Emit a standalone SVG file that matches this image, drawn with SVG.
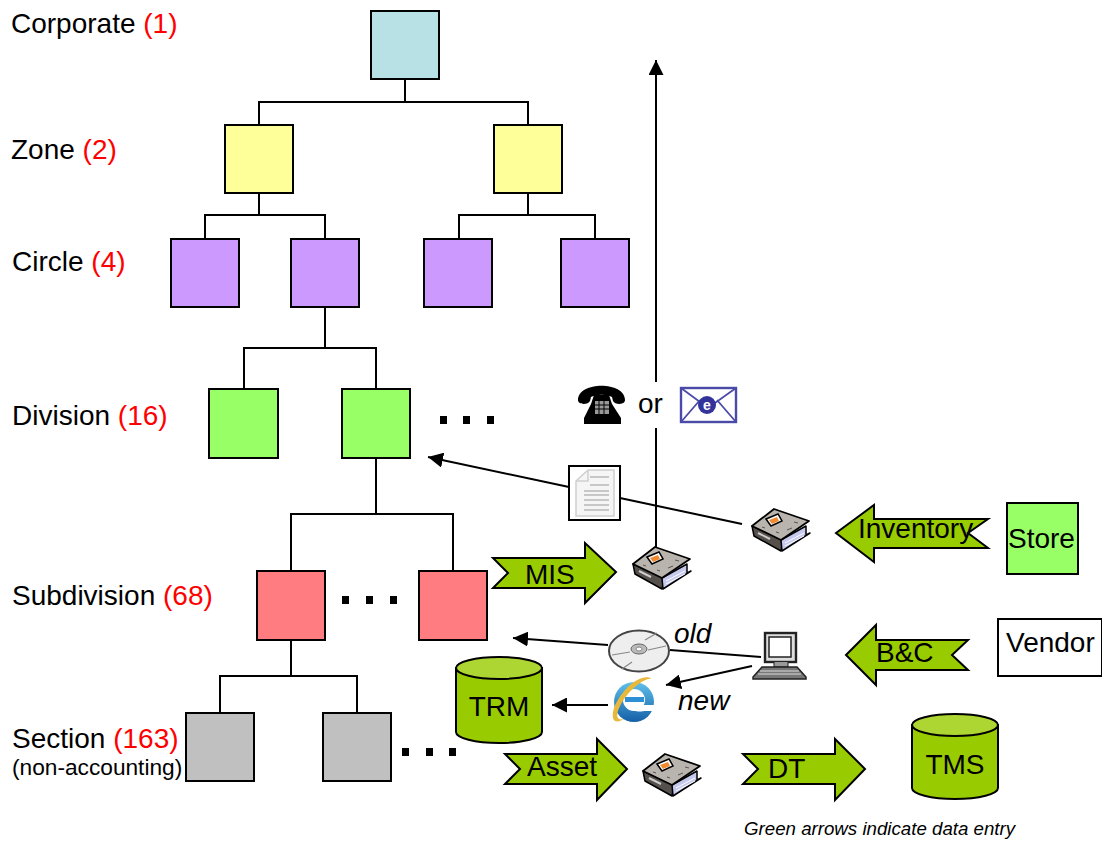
<svg xmlns="http://www.w3.org/2000/svg" xmlns:xlink="http://www.w3.org/1999/xlink" width="1102" height="843" viewBox="0 0 1102 843">
<style>
text{font-family:"Liberation Sans",Arial,sans-serif;font-size:28px;fill:#000}
.red{fill:#f00}
.it{font-style:italic}
.n{stroke:#000;stroke-width:2}
.c{fill:none;stroke:#000;stroke-width:2}
.blue{fill:#b7e1e4}.yel{fill:#ffff99}.pur{fill:#cc99ff}.grn{fill:#99ff66}.pnk{fill:#ff7c80}.gry{fill:#c0c0c0}
.ga{fill:#99cc00;stroke:#000;stroke-width:2;stroke-linejoin:miter}
.top{fill:#add633;stroke:#000;stroke-width:2}
.dot{fill:#000}
</style>
<defs>
<marker id="ah" markerUnits="userSpaceOnUse" markerWidth="16" markerHeight="15" refX="15" refY="7.5" orient="auto"><path d="M0 0L15 7.5L0 15z" fill="#000"/></marker>
<linearGradient id="ieg" x1="0" y1="0" x2="0" y2="1"><stop offset="0" stop-color="#5fc0ea"/><stop offset="1" stop-color="#1560a8"/></linearGradient>
<symbol id="book" width="60" height="45" viewBox="0 0 60 45" overflow="visible">
<path d="M0 18L2 28L29 43L31 32z" fill="#55504c" stroke="#000" stroke-width="1.5" stroke-linejoin="round"/>
<path d="M29 32L54 18L54 27L58 25L30 43z" fill="#c5c9ee" stroke="#000" stroke-width="1.5" stroke-linejoin="round"/>
<path d="M0 18L22 1L57 13L29 32z" fill="#b9b4ae" stroke="#000" stroke-width="1.8" stroke-linejoin="round"/>
<path d="M33 35L52 25M33 38L52 28" stroke="#fff" stroke-width="1"/>
<path d="M14 11L26 6L30 13L19 18z" fill="#fff" stroke="#000" stroke-width="1.5"/>
<path d="M17 12L25 9L27 13L20 16z" fill="#f08a30"/>
<path d="M6 25L18 31" stroke="#ccc" stroke-width="2"/>
<path d="M35 22L40 20M42 14L46 15M10 19L13 20M24 24L27 25" stroke="#555" stroke-width="1"/>
</symbol>
</defs>
<rect width="1102" height="843" fill="#fff"/>

<g id="connectors">
<path class="c" d="M405 79V102M259 125V102H528V125"/>
<path class="c" d="M259 193V215M205 239V215H325V239"/>
<path class="c" d="M528 193V215M459 239V215H595V239"/>
<path class="c" d="M325 307V348M244 389V348H376V389"/>
<path class="c" d="M376 458V514M291 571V514H453V571"/>
<path class="c" d="M291 640V676M220 713V676H357V713"/>
<line class="c" x1="656" y1="382" x2="656" y2="60" marker-end="url(#ah)"/>
<line class="c" x1="656" y1="547" x2="656" y2="428"/>
<line class="c" x1="569" y1="487" x2="428" y2="457" marker-end="url(#ah)"/>
<line class="c" x1="742" y1="524" x2="620" y2="498"/>
<line class="c" x1="608" y1="645" x2="513" y2="638" marker-end="url(#ah)"/>
<line class="c" x1="761" y1="657" x2="670" y2="650"/>
<line class="c" x1="752" y1="666" x2="666" y2="685" marker-end="url(#ah)"/>
<line class="c" x1="608" y1="705" x2="552" y2="705" marker-end="url(#ah)"/>
</g>

<g id="labels">
<text x="11" y="33">Corporate <tspan class="red">(1)</tspan></text>
<text x="11" y="159">Zone <tspan class="red">(2)</tspan></text>
<text x="12" y="271">Circle <tspan class="red">(4)</tspan></text>
<text x="12" y="425">Division <tspan class="red">(16)</tspan></text>
<text x="12" y="605">Subdivision <tspan class="red">(68)</tspan></text>
<text x="12" y="748">Section <tspan class="red">(163)</tspan></text>
<text x="12" y="775" style="font-size:22.7px">(non-accounting)</text>
<text x="744" y="835" class="it" style="font-size:18.7px">Green arrows indicate data entry</text>
</g>

<g id="corporate"><rect class="n blue" x="371" y="11" width="68" height="68"/></g>
<g id="zone-1"><rect class="n yel" x="225" y="125" width="68" height="68"/></g>
<g id="zone-2"><rect class="n yel" x="494" y="125" width="68" height="68"/></g>
<g id="circle-1"><rect class="n pur" x="171" y="239" width="68" height="68"/></g>
<g id="circle-2"><rect class="n pur" x="291" y="239" width="68" height="68"/></g>
<g id="circle-3"><rect class="n pur" x="424" y="239" width="68" height="68"/></g>
<g id="circle-4"><rect class="n pur" x="561" y="239" width="68" height="68"/></g>
<g id="division-1"><rect class="n grn" x="209" y="389" width="69" height="69"/></g>
<g id="division-2"><rect class="n grn" x="342" y="389" width="68" height="69"/></g>
<g id="subdivision-1"><rect class="n pnk" x="257" y="571" width="68" height="69"/></g>
<g id="subdivision-2"><rect class="n pnk" x="419" y="571" width="68" height="69"/></g>
<g id="section-1"><rect class="n gry" x="186" y="713" width="68" height="68"/></g>
<g id="section-2"><rect class="n gry" x="323" y="713" width="68" height="68"/></g>

<g id="ellipses">
<rect class="dot" x="440" y="416" width="7" height="8"/><rect class="dot" x="463" y="416" width="7" height="8"/><rect class="dot" x="487" y="416" width="7" height="8"/>
<rect class="dot" x="342" y="596" width="7" height="8"/><rect class="dot" x="366" y="596" width="7" height="8"/><rect class="dot" x="390" y="596" width="7" height="8"/>
<rect class="dot" x="402" y="748" width="7" height="8"/><rect class="dot" x="426" y="748" width="7" height="8"/><rect class="dot" x="449" y="748" width="7" height="8"/>
</g>

<g id="mis"><path class="ga" d="M493 558H585V543L616 572L585 603V588H493L508 573z"/><text x="525" y="584">MIS</text></g>
<g id="asset"><path class="ga" d="M505 754H597V739L627 769L597 800V784H505L520 769z"/><text x="527" y="776">Asset</text></g>
<g id="dt"><path class="ga" d="M743 754H835V739L865 769L835 800V784H743L758 769z"/><text x="768" y="778">DT</text></g>
<g id="inventory"><path class="ga" d="M836 533L874 505V519H988L968 533L988 548H874V562z"/><text x="858" y="538">Inventory</text></g>
<g id="bc"><path class="ga" d="M846 655L876 625V640H968L952 655L968 670H876V685z"/><text x="876" y="662">B&amp;C</text></g>

<g id="store"><rect class="n grn" x="1007" y="503" width="71" height="71"/><text x="1008" y="548">Store</text></g>
<g id="vendor"><rect class="n" fill="#fff" x="998" y="619" width="104" height="57"/><text x="1006" y="652">Vendor</text></g>

<g id="trm"><path class="ga" d="M456 668V732C456 738 475 743 499 743S542 738 542 732V668z"/><ellipse class="top" cx="499" cy="668" rx="43" ry="11"/><text x="499" y="716" text-anchor="middle">TRM</text></g>
<g id="tms"><path class="ga" d="M912 725V788C912 794 931 799 955 799S998 794 998 788V725z"/><ellipse class="top" cx="955" cy="725" rx="43" ry="11"/><text x="955" y="774" text-anchor="middle">TMS</text></g>

<g id="book-1"><use xlink:href="#book" href="#book" x="633" y="546"/></g>
<g id="book-2"><use xlink:href="#book" href="#book" x="752" y="508"/></g>
<g id="book-3"><use xlink:href="#book" href="#book" x="643" y="753"/></g>

<g id="document">
<rect x="569" y="466" width="51" height="54" fill="#fff" stroke="#000" stroke-width="2"/>
<path d="M576 481L588 470H614V516H576z" fill="#f5f5f5" stroke="#cfcfcf" stroke-width="1.5"/>
<path d="M576 481H588V470" fill="none" stroke="#cfcfcf" stroke-width="1.5"/>
<path d="M590 477H609M590 485H609M584 491H609M584 495H609M584 500H609M584 505H609M584 510H609" stroke="#999" stroke-width="1"/>
</g>

<g id="phone">
<path d="M578 400C578 381 625 381 625 400C625 405 615 405 613 401L612 397C606 394 597 394 591 397L590 401C588 405 578 405 578 400z" fill="#000"/>
<path d="M594 395H609L612 404L621 418V424H584V418L591 404z" fill="#000"/>
<rect x="595" y="401" width="14" height="13" fill="#999"/>
<path d="M599 401V414M604 401V414M595 405H609M595 409H609" stroke="#000"/>
</g>
<text x="638" y="413">or</text>
<g id="envelope">
<rect x="681" y="388" width="55" height="34" fill="#fff" stroke="#4a4aa8" stroke-width="2.4"/>
<path d="M681 388L708 408L736 388M681 422L700 400M736 422L717 400" fill="none" stroke="#4a4aa8" stroke-width="1.8"/>
<circle cx="707" cy="405" r="9" fill="#33339a"/>
<text x="707" y="410" text-anchor="middle" style="font-size:14px;font-weight:bold;fill:#fff">e</text>
</g>

<g id="cd">
<ellipse cx="639" cy="651" rx="30" ry="20.5" fill="#eee" stroke="#444" stroke-width="2"/>
<path d="M645 640L657 633M632 662L622 669M612 655L630 652M648 650L666 646" stroke="#888" stroke-width="1.2"/>
<ellipse cx="639" cy="649" rx="8" ry="5" fill="#bbb" stroke="#666"/>
<ellipse cx="639" cy="649" rx="3" ry="2" fill="#fff" stroke="#888"/>
</g>
<text x="674" y="643" class="it">old</text>

<g id="ie">
<circle cx="634" cy="702" r="20" fill="url(#ieg)"/>
<circle cx="634" cy="700" r="11" fill="#fff"/>
<path d="M625 697H644V702H625z" fill="#2d8fd5"/>
<path d="M634 705H656V711H644C641 712 630 712 628 705z" fill="#fff"/>
<path d="M652 679C642 672 622 688 614 708C610 722 616 724 624 719C617 721 615 716 620 706C628 690 645 677 652 679z" fill="#e8b83a"/>
</g>
<text x="678" y="710" class="it">new</text>

<g id="computer">
<rect x="765" y="633" width="31" height="29" fill="#ddd" stroke="#222" stroke-width="2.4"/>
<rect x="769" y="637" width="22" height="20" fill="#fff" stroke="#222" stroke-width="1.5"/>
<path d="M774 662V667H788V662" fill="#999" stroke="#222"/>
<path d="M762 667H797L806 677V679H753V677z" fill="#777" stroke="#222" stroke-width="1.5"/>
<path d="M760 671H799M758 674H801" stroke="#ddd" stroke-width="1"/>
</g>
</svg>
